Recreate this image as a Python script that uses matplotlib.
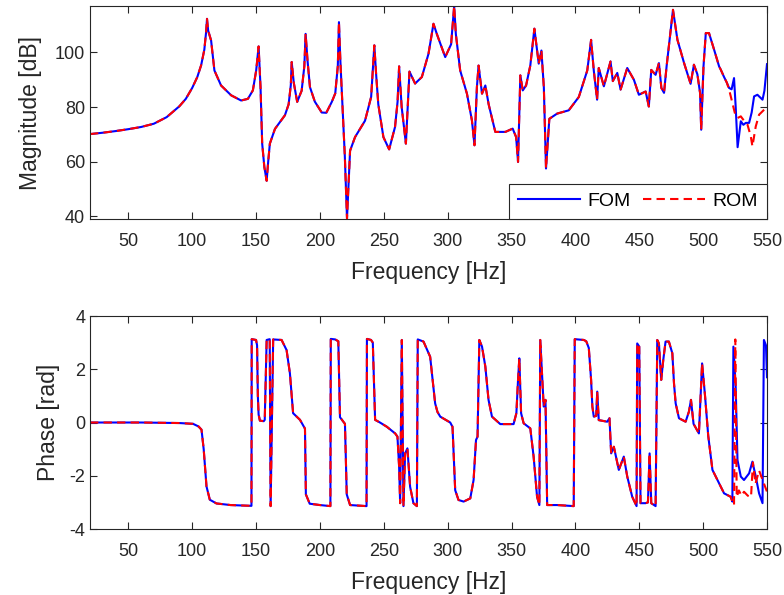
import numpy as np
import matplotlib
matplotlib.use("Agg")
import matplotlib.pyplot as plt

# ---------------- data ----------------
# Magnitude, shared part (FOM and ROM coincide)
freq_mag_common = [20, 30, 40, 50, 60, 70, 80, 90, 95, 100, 104, 107, 109.5, 110.8, 111.6,
                   112.5, 114.8, 117.4, 122.6, 130.5, 138.3, 143.6, 147.5, 150.1, 152, 153.5,
                   154.8, 156.5, 158.3, 159.5, 160.8, 164.8, 172.6, 175.5, 177.2, 177.9, 179.5,
                   182.2, 185.7, 187.8, 188.8, 190.3, 192.2, 196, 201.4, 205, 209.3, 212, 214,
                   214.9, 216, 217.6, 219.5, 221.2, 223.6, 227.5, 235.3, 240.1, 242.6, 244,
                   245.7, 249.7, 254.2, 258.8, 260.8, 262, 264, 267.3, 270.1, 274.5, 279.8,
                   285, 288.9, 291.5, 298.1, 302.7, 305.1, 306.4, 309.8, 315.1, 319.0, 321.0,
                   322.9, 324.2, 326.9, 329.5, 332.1, 337.3, 345.2, 350.9, 353.6, 355.1, 356.9,
                   358.8, 361.4, 364.7, 367.9, 371.3, 373.4, 375.3, 377.0, 379.6, 385.7, 394.8,
                   402.7, 409.3, 412.3, 414.4, 417, 418.3, 422.3, 427.5, 429.3, 432.8, 435.4,
                   440.6, 445.8, 449.7, 455, 457.5, 459.4, 462.8, 465.4, 467.3, 469.4, 471.4,
                   476.4, 479.9, 485.1, 490.2, 492.8, 495.5, 497.6, 498.5, 500.3, 502.1, 504.6,
                   508.6, 512.5, 513.8, 516.4, 518.5]
mag_common = [70.1, 70.6, 71.2, 71.9, 72.7, 73.9, 76.3, 80.3, 83, 87, 91, 95.3, 101, 107, 112.3,
              108, 104.4, 93.4, 87.9, 84.3, 82.4, 83, 86.1, 93.4, 102.2, 87.3,
              66.6, 58, 53, 60, 66.6, 72, 77, 81, 88, 96.5, 89,
              81.9, 86, 95, 106.8, 97, 87.3, 82, 78, 77.9, 81.9, 85, 95,
              111.1, 97, 81, 62, 39.2, 64, 69, 75, 83.7, 102.6, 92,
              81, 69, 64.5, 72.7, 82, 94.9, 80, 66.6, 93, 88.6, 91,
              99.5, 110.5, 106.8, 98.3, 103, 117, 106.8, 93.4, 84.9, 75.1, 66,
              87.3, 95.2, 84.9, 87.9, 81, 70.9, 70.9, 72.1, 69, 59.9, 91.6,
              86.1, 87.9, 95.2, 108.7, 95.9, 100.7, 87.3, 57.5, 75.7, 77.6, 78.8,
              83.7, 93.4, 104.6, 93.4, 82.7, 94.3, 87.6, 96.7, 89.5, 92.5, 86.4,
              94.3, 90, 84.5, 85.7, 80.2, 93.6, 91.8, 96.1, 87, 85.2, 94.9,
              115.6, 104.6, 96.1, 88.5, 95.5, 92, 85.2, 71.7, 94.9, 107.1, 107.1,
              101, 94.9, 93.7, 91, 89]
# Magnitude tails where the curves separate
freq_mag_fom_tail = [520.3, 522.3, 524.2, 525.5, 527, 529.5, 531.5, 533.4, 536, 538, 539.9,
                     542.5, 546.5, 548, 550]
mag_fom_tail = [87, 86.5, 90.6, 80, 65.3, 74.8, 73.5, 74.2, 74.2, 78, 83.9,
                84.5, 82.7, 86, 95.7]
freq_mag_rom_tail = [520.3, 522.9, 525, 527, 529.5, 532, 534.7, 537.3, 538.6, 541.2, 543.8,
                     547.7, 550]
mag_rom_tail = [86.5, 81.5, 77.5, 76, 76.6, 75, 73.6, 69.3, 65.6, 72.9, 77.2,
                79, 80]

# Phase, shared part
freq_ph_common = [20, 60, 90, 100.7, 105, 107.3, 109, 111.2, 113.8, 119, 130, 146.4, 146.6,
                  150, 150.8, 151.4, 152, 153, 156, 156.8, 158.3, 160.7, 161.4, 163.4, 170,
                  173.9, 176.5, 179, 184.4, 188.3, 189, 192, 200, 208.2, 208.5, 212, 214.4,
                  215.7, 219.6, 221, 223.6, 230, 236.5, 236.8, 240, 241.4, 243.2, 247, 252.4,
                  258.9, 260.7, 262, 262.8, 264.1, 265.4, 266.7, 268.5, 270.6, 273.2, 275.9,
                  276.6, 281.1, 286.3, 288.5, 290.2, 292, 294.2, 302, 303.8, 305.9, 308.5,
                  312.5, 317.7, 320.3, 322.2, 323.4, 324.8, 326.9, 329.5, 332, 334.7, 341.2,
                  351.6, 353.8, 355.1, 356.1, 357.5, 359.5, 364.7, 367.3, 370, 371.8, 372.5,
                  375.2, 376.6, 377.9, 385.7, 398.7, 399.5, 406.6, 408.5, 410.5, 412.3, 413.3,
                  414.4, 416.3, 417.1, 418.3, 424.9, 426.7, 428, 430.1, 434, 437.9, 440.6,
                  444.5, 447.9, 448.4, 450, 451, 454.9, 456.8, 458.1, 459.4, 462.8, 464.1,
                  465.4, 467.2, 468.8, 470.6, 473.2, 475.9, 477.2, 478.5, 481.1, 486.3,
                  488.9, 490.5, 492.5, 496.7, 499.2, 501.5, 504, 507.3, 511.2, 513.8, 516.4,
                  521.6, 522.9]
ph_common = [0, 0, -0.02, -0.05, -0.15, -0.27, -1.0, -2.4, -2.9, -3.04, -3.1, -3.13, 3.13,
             3.1, 2.9, 1.0, 0.3, 0.07, 0.05, 0.1, 3.1, 3.13, -3.14, 3.12, 3.1,
             2.72, 1.85, 0.35, 0.1, -0.23, -2.7, -3.05, -3.1, -3.14, 3.14, 3.12, 3.05,
             0.2, -0.05, -2.7, -3.1, -3.12, -3.14, 3.14, 3.1, 3.0, 0.1, 0.0, -0.16,
             -0.41, -0.53, -1.66, -3.03, 3.1, -3.14, -1.16, -0.97, -2.41, -3.03, -3.14,
             3.12, 3.04, 2.47, 1.5, 0.72, 0.4, 0.22, 0.0, -0.16, -2.54, -2.91,
             -2.97, -2.85, -2.16, -0.66, -0.53, 3.1, 2.85, 2.1, 0.85, 0.22, -0.06,
             -0.06, 0.35, 1.6, 2.41, 0.35, -0.03, -0.22, -1.28, -2.79, -3.1, 3.1,
             0.6, 0.85, -3.1, -3.1, -3.14, 3.13, 3.1, 3.05, 2.8, 1.6, 0.6,
             0.22, 0.25, 1.16, 0.09, 0.03, 0.16, -1.16, -0.91, -1.78, -1.28, -2.03,
             -2.79, -3.14, 2.97, 2.85, -3.03, -3.03, -3.0, -1.16, -3.03, -3.14, 3.1,
             2.97, 1.6, 2.35, 3.04, 3.04, 2.6, 1.47, 0.72, 0.16, 0.03,
             0.41, 0.85, -0.05, -0.41, 2.22, 1.0, -0.5, -1.78, -2.16, -2.41, -2.66,
             -2.79, -2.97]
# Phase tails
freq_ph_fom_tail = [523.7, 525.5, 526.9, 529.5, 532, 536, 538.6, 541.2, 543.8, 546.5, 547.6,
                    549.2, 550]
ph_fom_tail = [2.85, 1.34, -1.41, -2.03, -2.16, -1.91, -1.47, -2.03, -2.66, -3.03, 3.1,
               2.9, 1.7]
freq_ph_rom_tail = [524.2, 525.2, 526.3, 528, 530, 532, 535, 537.5, 539, 541, 543.8, 547.7, 550]
ph_rom_tail = [-3.1, 3.12, -2.8, -2.55, -2.75, -2.6, -2.75, -2.8, -1.5, -2.3, -1.8, -2.3, -2.6]

x_ticks = [50, 100, 150, 200, 250, 300, 350, 400, 450, 500, 550]
mag_ticks = [40, 60, 80, 100]
ph_ticks = [-4, -2, 0, 2, 4]

# ---------------- build series ----------------
f_fom_mag = np.array(freq_mag_common + freq_mag_fom_tail)
m_fom = np.array(mag_common + mag_fom_tail)
f_rom_mag = np.array(freq_mag_common + freq_mag_rom_tail)
m_rom = np.array(mag_common + mag_rom_tail)
f_fom_ph = np.array(freq_ph_common + freq_ph_fom_tail)
p_fom = np.array(ph_common + ph_fom_tail)
f_rom_ph = np.array(freq_ph_common + freq_ph_rom_tail)
p_rom = np.array(ph_common + ph_rom_tail)

# ---------------- style ----------------
plt.rcParams['font.family'] = ['Liberation Sans', 'DejaVu Sans']
plt.rcParams['axes.unicode_minus'] = False
ax_col = (0.15, 0.15, 0.15)

fig = plt.figure(figsize=(7.84, 5.95), dpi=100)
ax1 = fig.add_axes([0.1148, 0.6319, 0.8635, 0.358])
ax2 = fig.add_axes([0.1148, 0.1109, 0.8635, 0.358])

for ax in (ax1, ax2):
    for s in ax.spines.values():
        s.set_color(ax_col)
        s.set_linewidth(0.8)
    ax.tick_params(direction='in', top=True, right=True, length=5, width=0.8,
                   colors=ax_col, labelsize=13, labelcolor=ax_col)
    ax.tick_params(axis='x', pad=10)
    ax.set_xlim(20, 550)
    ax.set_xticks(x_ticks)
    ax.set_xlabel('Frequency [Hz]', fontsize=16.5, color=ax_col, labelpad=8)

lw = 1.5
ax1.plot(f_fom_mag, m_fom, color='#0000ff', lw=lw, label='FOM')
ax1.plot(f_rom_mag, m_rom, color='#ff0000', lw=lw, ls=(0, (4, 2.5)), label='ROM')
ax1.set_ylim(39, 117)
ax1.set_yticks(mag_ticks)
ax1.set_ylabel('Magnitude [dB]', fontsize=16.5, color=ax_col, labelpad=9)

ax2.plot(f_fom_ph, p_fom, color='#0000ff', lw=lw)
ax2.plot(f_rom_ph, p_rom, color='#ff0000', lw=lw, ls=(0, (4, 2.5)))
ax2.set_ylim(-4, 4)
ax2.set_yticks(ph_ticks)
ax2.set_ylabel('Phase [rad]', fontsize=16.5, color=ax_col, labelpad=7)

leg = ax1.legend(loc='lower right', ncol=2, fontsize=14, frameon=True, fancybox=False,
                 framealpha=1, edgecolor=ax_col, borderaxespad=0, handlelength=3.2,
                 handletextpad=0.4, columnspacing=0.6, borderpad=0.45)
leg.get_frame().set_linewidth(0.8)
for t in leg.get_texts():
    t.set_color('black')

fig.savefig('out.png', dpi=100)
